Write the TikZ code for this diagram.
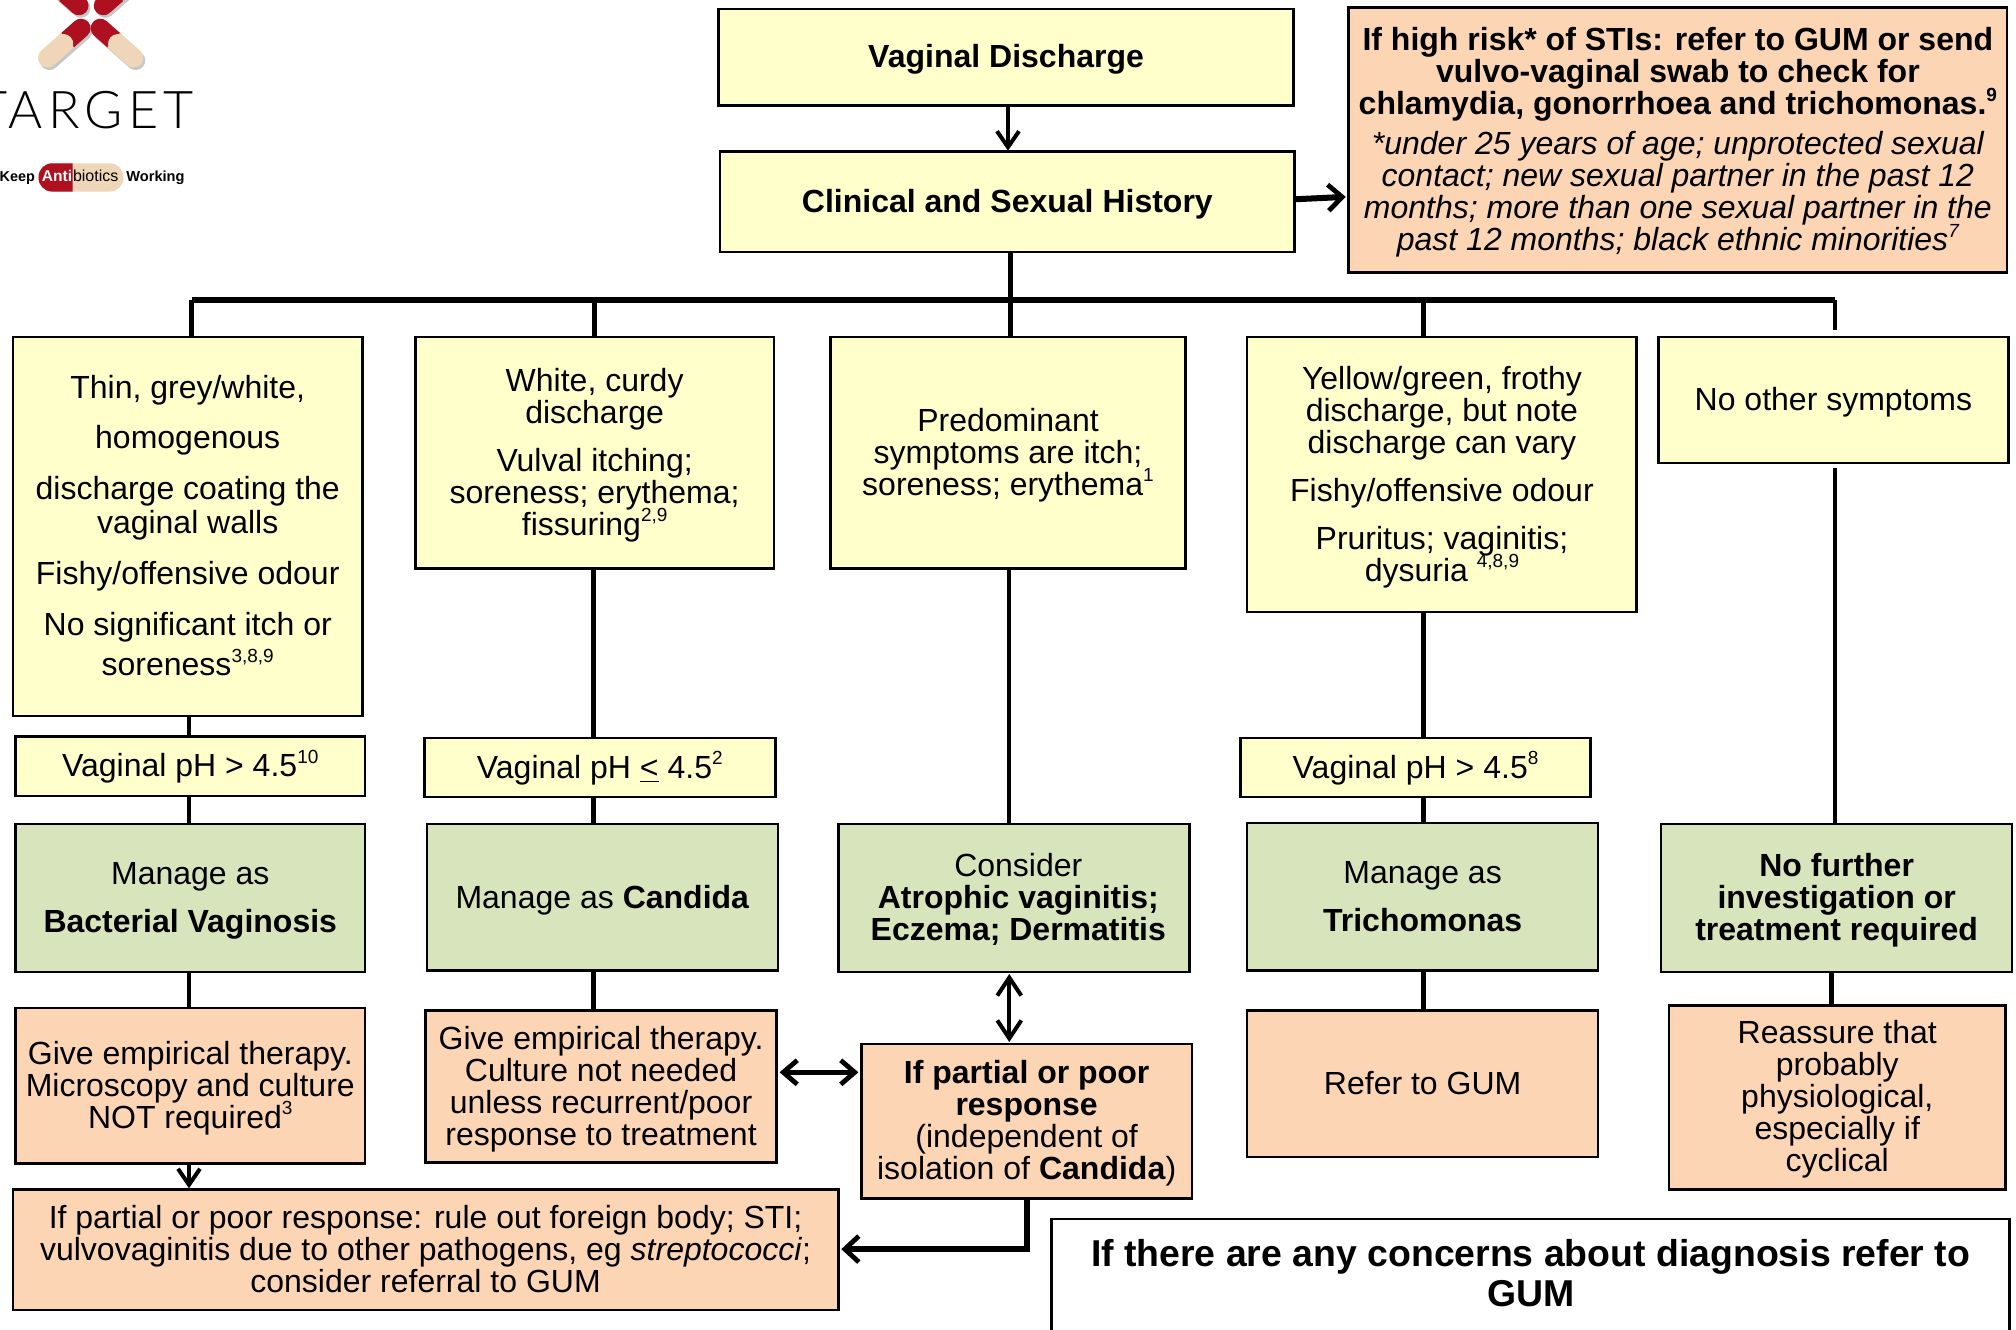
\documentclass[tikz,border=0pt]{standalone}
\usepackage{fontspec}
\setmainfont{Liberation Sans}
\usetikzlibrary{arrows.meta,calc}
\definecolor{boxyellow}{HTML}{FFFFCC}
\definecolor{boxgreen}{HTML}{D7E4BC}
\definecolor{boxorange}{HTML}{FCD5B5}
\definecolor{pillred}{HTML}{AE1020}
\definecolor{pillcream}{HTML}{F0D6B8}
\tikzset{
  basebox/.style={draw=black,line width=1.3pt,inner sep=0pt,outer sep=0pt,align=center,font=\fontsize{16}{16}\selectfont},
  ybox/.style={basebox,fill=boxyellow},
  gbox/.style={basebox,fill=boxgreen},
  obox/.style={basebox,fill=boxorange},
  wbox/.style={basebox,fill=white,font=\fontsize{18.7}{20}\selectfont\bfseries},
  link/.style={draw=black,line width=2.2pt},
  buslink/.style={draw=black,line width=3pt},
  barb/.style={draw=black,line width=2.2pt,shorten >=0.5pt,-{Straight Barb[length=8pt,width=11pt,line width=2pt]}},
  thickbarb/.style={draw=black,line width=3pt,shorten >=1.5pt,-{Straight Barb[length=7pt,width=13pt,line width=2.4pt]}},
  dbarb/.style={draw=black,line width=2.2pt,shorten >=1pt,shorten <=1pt,{Straight Barb[length=9pt,width=12pt,line width=2pt]}-{Straight Barb[length=9pt,width=12pt,line width=2pt]}},
  dthick/.style={draw=black,line width=2.6pt,shorten >=1.5pt,shorten <=1.5pt,{Straight Barb[length=7pt,width=12pt,line width=2.4pt]}-{Straight Barb[length=7pt,width=12pt,line width=2.4pt]}},
}
\newcommand{\bx}[7]{%
  \pgfmathsetmacro\cxx{(#3+#5)/2}\pgfmathsetmacro\cyy{(#4+#6)/2}%
  \pgfmathsetlengthmacro\ww{(#5-#3)*0.642857pt}\pgfmathsetlengthmacro\hh{(#6-#4)*0.642857pt}%
  \node[#1,minimum width=\ww,minimum height=\hh] (#2) at (\cxx,\cyy) {\rule{0pt}{14pt}#7\rule[-3.4pt]{0pt}{3.4pt}};}
\newcommand{\pill}[2]{%
  \draw[black,opacity=.22,line width=9.6pt,line cap=round] ($(#1)+(1.5,2)$)--($(#2)+(1.5,2)$);
  \draw[pillred,line width=9.6pt,line cap=round] (#1)--($(#1)!0.40!(#2)$);
  \draw[pillcream,line width=9.6pt] ($(#1)!0.40!(#2)$)--($(#1)!0.52!(#2)$);
  \draw[pillcream,line width=9.6pt,line cap=round] ($(#1)!0.52!(#2)$)--(#2);}
\newcommand{\spr}[1]{\smash{\raisebox{0.42em}{\fontsize{9.5}{10}\selectfont #1}}}
\newfontfamily\logofont{Lato Light}
\begin{document}
\begin{tikzpicture}[x=0.642857pt,y=-0.642857pt]
\useasboundingbox (0,0) rectangle (1568,1033.67);
\clip (0,0) rectangle (1568,1033.67);
% logo
\coordinate (p1a) at (63,22); \coordinate (p1b) at (37,45);
\coordinate (p2a) at (78,22); \coordinate (p2b) at (104,45);
\coordinate (p3a) at (61.4,4.4); \coordinate (p3b) at (35,-19);
\coordinate (p4a) at (80.4,4.4); \coordinate (p4b) at (107,-19);
\pill{p1a}{p1b}
\pill{p2a}{p2b}
\pill{p3a}{p3b}
\pill{p4a}{p4b}
\node[anchor=base east,inner sep=0pt,font=\logofont\fontsize{26}{26}\selectfont] (target) at (151,100) {\addfontfeature{LetterSpace=10}TARGET};
\fill[pillcream,rounded corners=6.8pt] (30,127) rectangle (96,149);
\begin{scope}
  \clip (30,120) rectangle (56.5,155);
  \fill[pillred,rounded corners=6.8pt] (30,127) rectangle (96,149);
\end{scope}
\node[anchor=base east,inner sep=0pt,font=\fontsize{7.2}{8}\selectfont\bfseries] (keep) at (27.5,141) {Keep};
\node[anchor=base east,inner sep=0pt,text=white,font=\fontsize{7.8}{8}\selectfont\bfseries] (anti) at (56.5,141) {Anti};
\node[anchor=base west,inner sep=0pt,font=\fontsize{8}{8}\selectfont] (bio) at (56.5,141) {biotics};
\node[anchor=base west,inner sep=0pt,font=\fontsize{7.3}{8}\selectfont\bfseries] (work) at (98,141) {Working};
% boxes
\bx{ybox}{vd}{559}{7}{1006}{82}{\bfseries Vaginal Discharge}
\bx{ybox}{csh}{560}{118}{1007}{196}{\bfseries Clinical and Sexual History}
\bx{obox}{risk}{1049}{6}{1561}{212}{\bfseries If high risk* of STIs: refer to GUM or send\\\bfseries vulvo-vaginal swab to check for\\\bfseries chlamydia, gonorrhoea and trichomonas.\spr{9}\\[4pt]\itshape *under 25 years of age; unprotected sexual\\\itshape contact; new sexual partner in the past 12\\\itshape months; more than one sexual partner in the\\\itshape past 12 months; black ethnic minorities\spr{7}}
\bx{ybox}{b1}{10}{262}{282}{557}{Thin, grey/white,\\[9pt]homogenous\\[9.6pt]discharge coating the\\[1pt]vaginal walls\\[9.6pt]Fishy/offensive odour\\[9.6pt]No significant itch or\\[4pt]soreness\spr{3,8,9}}
\bx{ybox}{b2}{323}{262}{602}{442}{White, curdy\\discharge\\[8pt]Vulval itching;\\soreness; erythema;\\fissuring\spr{2,9}}
\bx{ybox}{b3}{646}{262}{922}{442}{Predominant\\symptoms are itch;\\soreness; erythema\spr{1}}
\bx{ybox}{b4}{970}{262}{1273}{476}{Yellow/green, frothy\\discharge, but note\\discharge can vary\\[8pt]Fishy/offensive odour\\[8pt]Pruritus; vaginitis;\\dysuria \spr{4,8,9}}
\bx{ybox}{b5}{1290}{262}{1562}{360}{No other symptoms}
\bx{ybox}{ph1}{12}{573}{284}{619}{Vaginal pH > 4.5\spr{10}}
\bx{ybox}{ph2}{330}{574}{603}{620}{Vaginal pH \underline{<} 4.5\spr{2}}
\bx{ybox}{ph3}{965}{574}{1237}{620}{Vaginal pH > 4.5\spr{8}}
\bx{gbox}{g1}{12}{641}{284}{756}{Manage as\\[8pt]\bfseries Bacterial Vaginosis}
\bx{gbox}{g2}{332}{641}{605}{755}{Manage as \textbf{Candida}}
\bx{gbox}{g3}{652}{641}{925}{756}{\hspace*{4.5pt}Consider\\\hspace*{4.5pt}\bfseries Atrophic vaginitis;\\\hspace*{4.5pt}\bfseries Eczema; Dermatitis}
\bx{gbox}{g4}{970}{640}{1243}{755}{Manage as\\[8pt]\bfseries Trichomonas}
\bx{gbox}{g5}{1292}{641}{1565}{756}{\bfseries No further\\\bfseries investigation or\\\bfseries treatment required}
\bx{obox}{o1}{12}{784}{284}{905}{Give empirical therapy.\\Microscopy and culture\\NOT required\spr{3}}
\bx{obox}{o2}{331}{786}{604}{904}{Give empirical therapy.\\Culture not needed\\unless recurrent/poor\\response to treatment}
\bx{obox}{o3}{670}{812}{927}{932}{\bfseries If partial or poor\\\bfseries response\\(independent of\\isolation of \textbf{Candida})}
\bx{obox}{o4}{970}{786}{1243}{900}{Refer to GUM}
\bx{obox}{o5}{1298}{782}{1560}{925}{Reassure that\\probably\\physiological,\\especially if\\cyclical}
\bx{obox}{bot}{10}{925}{652}{1019}{If partial or poor response: rule out foreign body; STI;\\vulvovaginitis due to other pathogens, eg \textit{streptococci};\\consider referral to GUM}
\bx{wbox}{concern}{818}{948}{1563}{1036}{If there are any concerns about diagnosis refer to\\GUM}
% helper coordinates
\coordinate (xa) at (147,0); \coordinate (xb) at (461.5,0); \coordinate (xc) at (785,0);
\coordinate (xd) at (1107,0); \coordinate (xe) at (1427,0); \coordinate (xf) at (1424.5,0);
\coordinate (xvd) at (784,0); \coordinate (xo3) at (799,0); \coordinate (xcsh) at (786,0);
\coordinate (busl) at (149,233); \coordinate (busr) at (1427,233);
\coordinate (gapr) at (1427,257); \coordinate (gap5) at (1427,364);
\coordinate (rowrisk) at (0,155); \coordinate (rowriskb) at (0,153); \coordinate (rowo2) at (0,834); \coordinate (rowbot) at (0,971.5);
% connectors
\draw[barb] (xvd |- vd.south) -- (xvd |- csh.north);
\draw[thickbarb] (csh.east |- rowrisk) -- (risk.west |- rowriskb);
\draw[link] (xcsh |- csh.south) -- (xcsh |- b3.north);
\draw[buslink] (busl) -- (busr);
\draw[link] (busl) -- (busl |- b1.north);
\draw[link] (busl -| b2.north) -- (b2.north);
\draw[link] (busl -| xd) -- (xd |- b4.north);
\draw[link] (busr) -- (gapr);
\draw[link] (xa |- b1.south) -- (xa |- ph1.north);
\draw[link] (xa |- ph1.south) -- (xa |- g1.north);
\draw[link] (xa |- g1.south) -- (xa |- o1.north);
\draw[barb] (xa |- o1.south) -- (xa |- bot.north);
\draw[link] (xb |- b2.south) -- (xb |- ph2.north);
\draw[link] (xb |- ph2.south) -- (xb |- g2.north);
\draw[link] (xb |- g2.south) -- (xb |- o2.north);
\draw[link] (xc |- b3.south) -- (xc |- g3.north);
\draw[link] (xd |- b4.south) -- (xd |- ph3.north);
\draw[link] (xd |- ph3.south) -- (xd |- g4.north);
\draw[link] (xd |- g4.south) -- (xd |- o4.north);
\draw[link] (gap5) -- (xe |- g5.north);
\draw[link] (xf |- g5.south) -- (xf |- o5.north);
\draw[dbarb] (xc |- g3.south) -- (xc |- o3.north);
\draw[dthick] (o2.east |- rowo2) -- (o3.west |- rowo2);
\draw[thickbarb] (xo3 |- o3.south) -- (xo3 |- rowbot) -- (bot.east |- rowbot);
\end{tikzpicture}
\end{document}
